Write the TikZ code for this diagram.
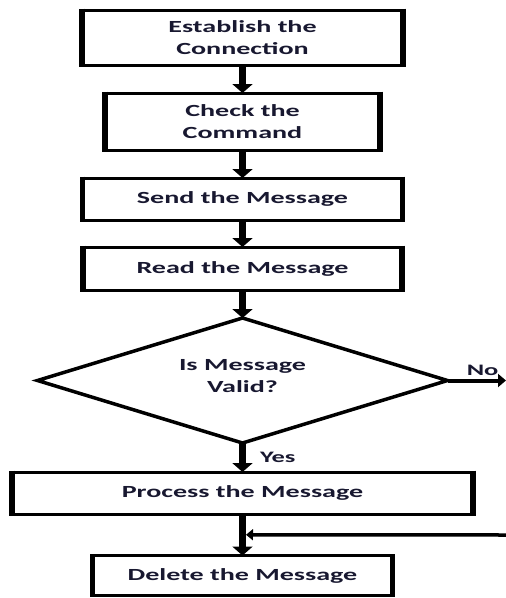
\documentclass[tikz,border=0pt]{standalone}
\usepackage{fontspec}
\newfontfamily\boxfont{Carlito}[FakeStretch=1.65]
\usetikzlibrary{shapes.geometric,arrows.meta,calc}
\definecolor{ink}{RGB}{24,24,48}
\begin{document}
\begin{tikzpicture}[x=1pt,y=-1pt,
  txt/.style={font=\boxfont\bfseries\fontsize{17}{22}\selectfont, text=ink, align=center},
  lbl/.style={font=\boxfont\bfseries\fontsize{16}{20}\selectfont, text=ink, inner sep=0pt},
  sideline/.style={draw=black, line width=5.5pt, shorten <=-1.5pt, shorten >=-1.5pt},
  box/.style={txt, rectangle, draw=black, line width=3pt, outer sep=0pt, inner sep=0pt,
    append after command={(\tikzlastnode.north west) edge[sideline] (\tikzlastnode.south west)
                          (\tikzlastnode.north east) edge[sideline] (\tikzlastnode.south east)}},
  decision/.style={txt, diamond, draw=black, line width=3.5pt, outer sep=0pt, inner sep=0pt,
    aspect=3.28, minimum width=410pt, minimum height=125pt, text depth=9pt},
  varrow/.style={draw=black, line width=7pt, -{Triangle[width=20pt,length=9pt]}},
  harrow/.style={draw=black, line width=4pt, -{Triangle[width=13pt,length=8pt]}},
  farrow/.style={draw=black, line width=3.5pt, -{Triangle[width=11pt,length=7pt]}}
]
\useasboundingbox (0,0) rectangle (506,598);

\node[box, minimum width=321pt, minimum height=55pt] (b1) at (242.5,37.5) {Establish the\\Connection};
\node[box, minimum width=275pt, minimum height=57pt] (b2) at (242.5,121.5) {Check the\\Command};
\node[box, minimum width=320pt, minimum height=42pt] (b3) at (242.5,199) {Send the Message};
\node[box, minimum width=319pt, minimum height=43pt] (b4) at (242.5,268.5) {Read the Message};
\node[decision] (dec) at (242.5,380.5) {Is Message\\Valid?};
\node[box, minimum width=461pt, minimum height=42pt] (b5) at (242.5,493) {Process the Message};
\node[box, minimum width=300pt, minimum height=40pt] (b6) at (242.5,575.5) {Delete the Message};

\draw[varrow] (b1.south) -- (b2.north);
\draw[varrow] (b2.south) -- (b3.north);
\draw[varrow] (b3.south) -- (b4.north);
\draw[varrow] (b4.south) -- (dec.north);
\draw[varrow] (dec.south) -- node[lbl, right=14pt] {Yes} (b5.north);
\draw[varrow] (b5.south) -- (b6.north);

\coordinate (noend) at (506,380.5);
\draw[harrow] (dec.east) -- node[lbl, pos=0.6, above=3pt] {No} (noend);

\coordinate (fbstart) at (506,535);
\coordinate (fbjoin) at ($($(b5.south)!0.5!(b6.north)$)+(3.5pt,0)$);
\draw[farrow] (fbstart) -- (fbjoin);
\end{tikzpicture}
\end{document}
